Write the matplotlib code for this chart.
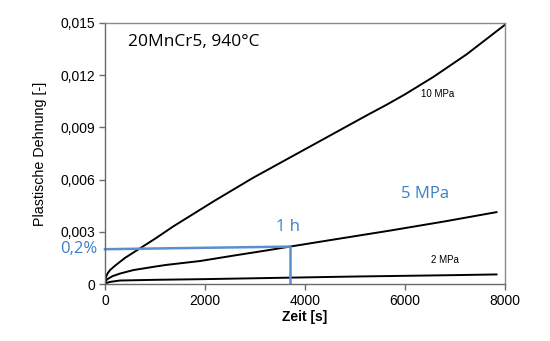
import matplotlib
matplotlib.use("Agg")
import matplotlib.pyplot as plt
from matplotlib.ticker import FuncFormatter

# Data
t_10 = [0, 20, 50, 100, 200, 400, 700, 1000, 1360, 2200, 2960, 4100, 5240, 5630, 6000,
        6567, 7233, 8000]
e_10 = [0, 0.0004, 0.0006, 0.0008, 0.00105, 0.0015, 0.00205, 0.0026, 0.0033, 0.0048,
        0.0061, 0.0079, 0.0097, 0.0103, 0.0109, 0.0119, 0.0132, 0.0149]

t_5 = [0, 20, 60, 150, 300, 567, 1000, 1233, 1900, 2567, 3233, 3700, 4500, 5700, 6800, 7830]
e_5 = [0, 0.0002, 0.0003, 0.00045, 0.0006, 0.0008, 0.001, 0.0011, 0.00132, 0.00163,
       0.00193, 0.00215, 0.00252, 0.00307, 0.0036, 0.00413]

t_2 = [0, 30, 100, 300, 1000, 2000, 3000, 4000, 5000, 6000, 7000, 7830]
e_2 = [0, 0.00006, 0.00012, 0.0002, 0.00024, 0.00028, 0.00033, 0.00038, 0.00043,
       0.00047, 0.00051, 0.00055]

# 1 h marker (0.2 % strain reached after ~3700 s at 5 MPa)
marker_t = [0, 3700]
marker_e = [0.0020, 0.00215]

x_ticks = [0, 2000, 4000, 6000, 8000]
y_ticks = [0, 0.003, 0.006, 0.009, 0.012, 0.015]

blue = "#3d7fc6"
line_blue = "#5b8fcf"

fig = plt.figure(figsize=(5.5, 3.41), dpi=100)
ax = fig.add_axes([105/550, 1-284/341, 400/550, 261/341])

ax.plot(t_10, e_10, color="black", lw=1.4)
ax.plot(t_5, e_5, color="black", lw=1.4)
ax.plot(t_2, e_2, color="black", lw=1.4)

ax.plot(marker_t, marker_e, color=line_blue, lw=1.8, clip_on=False)
ax.plot([marker_t[1], marker_t[1]], [0, marker_e[1]], color=line_blue, lw=1.8)

ax.set_xlim(0, 8000)
ax.set_ylim(0, 0.015)
ax.set_xticks(x_ticks)
ax.set_yticks(y_ticks)

def yfmt(v, pos):
    if abs(v) < 1e-12:
        return "0"
    return f"{v:.3f}".replace(".", ",")

ax.yaxis.set_major_formatter(FuncFormatter(yfmt))
ax.xaxis.set_major_formatter(FuncFormatter(lambda v, p: f"{int(v)}"))

for s in ax.spines.values():
    s.set_color("#8a8a8a")
    s.set_linewidth(1.0)
ax.spines["left"].set_color("#6a6a6a")
ax.spines["bottom"].set_color("#6a6a6a")

ax.tick_params(direction="out", length=4, width=1, color="#6a6a6a",
               labelsize=10, pad=3)
for lab in ax.get_xticklabels() + ax.get_yticklabels():
    lab.set_fontfamily("Liberation Sans")

ax.set_xlabel("Zeit [s]", fontfamily="Liberation Sans", fontsize=10, fontweight="bold", labelpad=2)
ax.set_ylabel("Plastische Dehnung [-]", fontfamily="Liberation Sans", fontsize=10.3, labelpad=10)

ax.text(128/550, 1-42/341, "20MnCr5, 940°C", transform=fig.transFigure,
        fontfamily="Open Sans", fontsize=12.5, va="center", ha="left")
ax.text(438/550, 1-94/341, "10 MPa", transform=fig.transFigure,
        fontfamily="Liberation Sans", fontsize=7, va="center", ha="center")
ax.text(445/550, 1-260/341, "2 MPa", transform=fig.transFigure,
        fontfamily="Liberation Sans", fontsize=7, va="center", ha="center")
ax.text(425/550, 1-194/341, "5 MPa", transform=fig.transFigure, color=blue,
        fontfamily="Open Sans", fontsize=12, va="center", ha="center")
ax.text(288/550, 1-227/341, "1 h", transform=fig.transFigure, color=blue,
        fontfamily="Open Sans", fontsize=12, va="center", ha="center")
ax.text(97/550, 1-249/341, "0,2%", transform=fig.transFigure, color=blue,
        fontfamily="Open Sans", fontsize=12, va="center", ha="right")

fig.savefig("out.png", dpi=100)
